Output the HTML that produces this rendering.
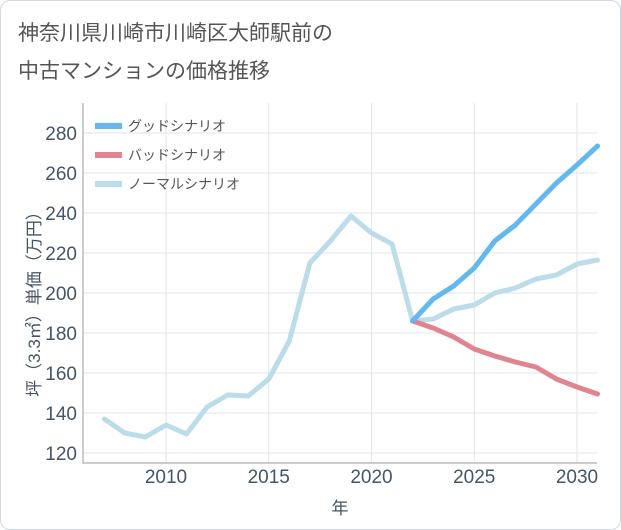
<!DOCTYPE html>
<html><head><meta charset="utf-8"><style>
body{margin:0;background:#fff;font-family:"Liberation Sans","Noto Sans CJK JP",sans-serif;}
#card{position:absolute;left:0;top:0;width:619px;height:528px;border:1px solid #d0d8e0;border-radius:10px;background:#fff;}
</style></head><body>
<div id="card"></div>
<svg id="c" width="621" height="530" style="position:absolute;left:0;top:0">
<text x="18" y="40" font-size="21" fill="#555">神奈川県川崎市川崎区大師駅前の</text>
<text x="18" y="78" font-size="21" fill="#555">中古マンションの価格推移</text>
</svg>
<script>
const years=[2007,2008,2009,2010,2011,2012,2013,2014,2015,2016,2017,2018,2019,2020,2021,2022,2023,2024,2025,2026,2027,2028,2029,2030,2031];
const normal=[137,130,128,134,129.5,143,149,148.5,157,176,215,226,238.5,230,224.5,186,187,192,194,200,202.5,207,209,214.5,216.5];
const goodYears=[2022,2023,2024,2025,2026,2027,2028,2029,2030,2031];
const good=[186,197,203.5,212.5,226,234,244.5,255,264,273.5];
const bad=[186,182.5,178,172,168.5,165.5,163,157,153,149.5];
const yTicks=[120,140,160,180,200,220,240,260,280];
const xTicks=[2010,2015,2020,2025,2030];
const ns="http://www.w3.org/2000/svg",svg=document.getElementById('c');
const L=83,R=597,T=103,B=463;
const x=v=>166+(v-2010)*(577-166)/20;
const y=v=>453-(v-120)*2;
function el(t,a,p){const e=document.createElementNS(ns,t);for(const k in a)e.setAttribute(k,a[k]);(p||svg).appendChild(e);return e;}
yTicks.forEach(v=>{const g=el('line',{x1:L,x2:R,y1:y(v),y2:y(v),stroke:'#dde6ee'});
const t=el('text',{x:L-6,y:y(v)+7,'text-anchor':'end','font-size':19,fill:'#445566'});t.textContent=v;});
xTicks.forEach(v=>{const g=el('line',{x1:x(v),x2:x(v),y1:T,y2:B,stroke:'#dde6ee'});
const t=el('text',{x:x(v),y:483,'text-anchor':'middle','font-size':19,fill:'#445566'});t.textContent=v;});
const ax=el('path',{d:`M${L} ${T}V${B}H${R}`,fill:'none',stroke:'#999'});
const xt=el('text',{x:340,y:514,'text-anchor':'middle','font-size':17,fill:'#445566'});xt.textContent='年';
const yt=el('text',{transform:'translate(40,300) rotate(-90)','text-anchor':'middle','font-size':17,fill:'#445566'});yt.textContent='坪（3.3㎡）単価（万円）';
function line(xs,vs,c,n){const p=el('polyline',{points:xs.map((v,i)=>x(v)+','+y(vs[i])).join(' '),fill:'none',stroke:c,'stroke-width':5,'stroke-linejoin':'round','stroke-linecap':'round'});}
line(years,normal,'#bcdcea','normal-line');
line(goodYears,bad,'#e0858f','bad-line');
line(goodYears,good,'#63b8f0','good-line');
[['グッドシナリオ','#63b8f0'],['バッドシナリオ','#e0858f'],['ノーマルシナリオ','#bcdcea']].forEach((d,i)=>{const yy=126+i*29;
const l=el('line',{x1:95,x2:122,y1:yy,y2:yy,stroke:d[1],'stroke-width':6});
const t=el('text',{x:128,y:yy+5,'font-size':14,fill:'#555'});t.textContent=d[0];});
</script>
</body></html>
